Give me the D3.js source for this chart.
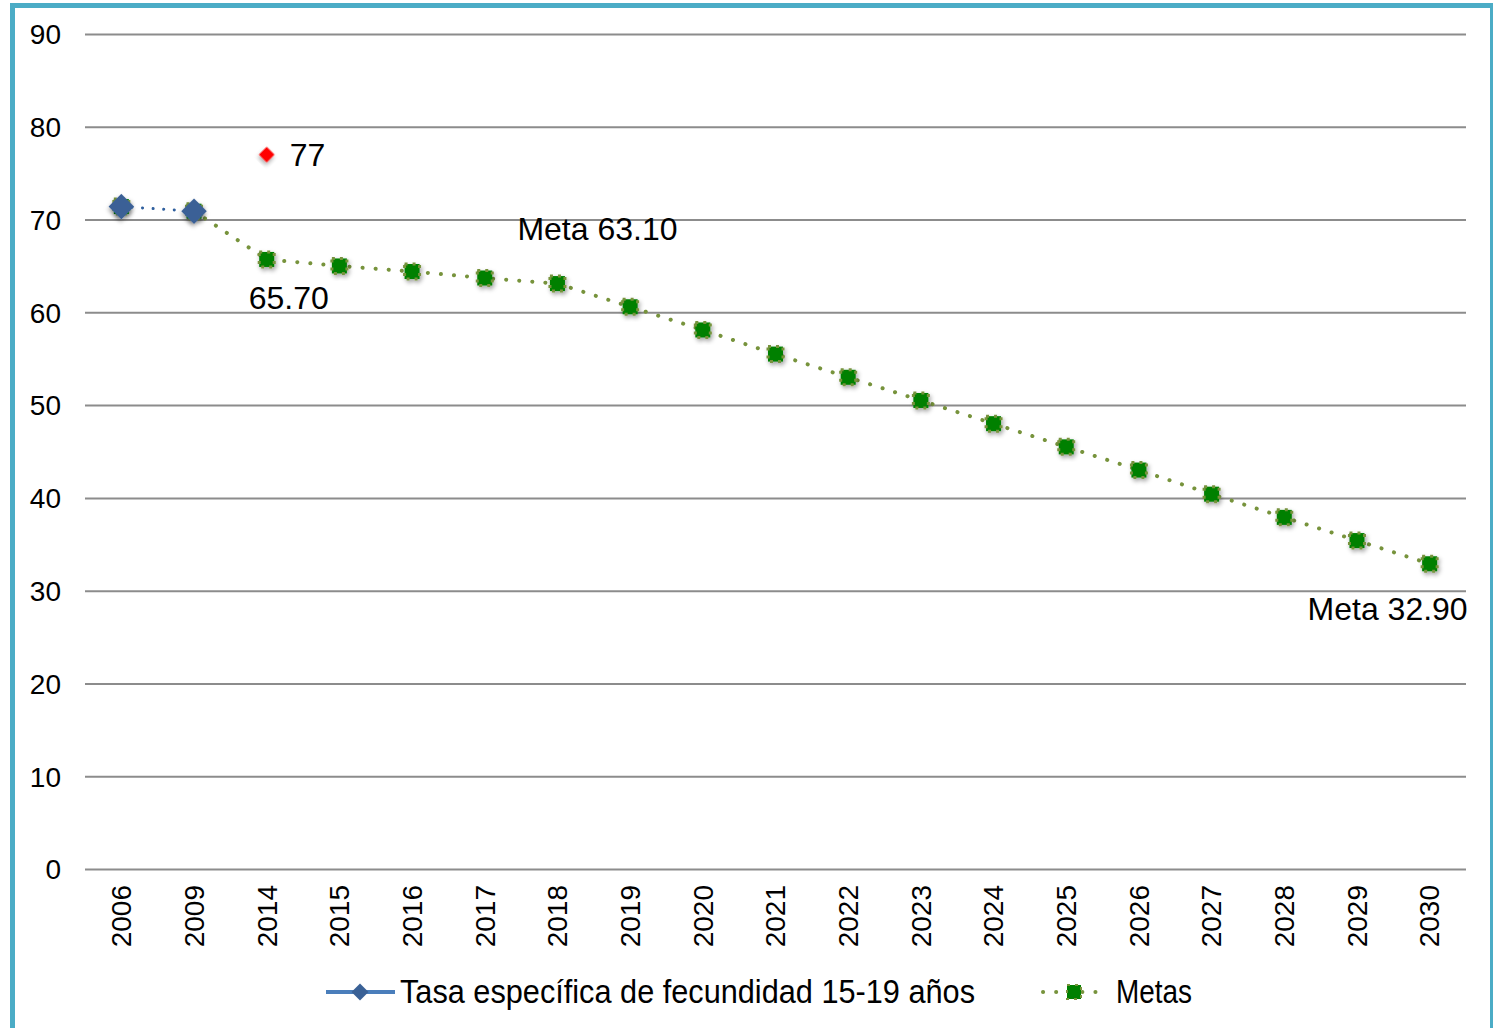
<!DOCTYPE html>
<html><head><meta charset="utf-8">
<script src="https://cdn.jsdelivr.net/npm/d3@7"></script>
<style>body{margin:0;background:#fff}svg{display:block}text{font-family:"Liberation Sans",Arial,sans-serif}</style>
</head><body><svg id="c" width="1493" height="1028"></svg>
<script>
const categories = ["2006","2009","2014","2015","2016","2017","2018","2019","2020","2021","2022","2023","2024","2025","2026","2027","2028","2029","2030"];
const tasaValues = [71.4, 70.9, null, null, null, null, null, null, null, null, null, null, null, null, null, null, null, null, null];
const metasValues = [71.4, 70.9, 65.7, 65.0, 64.4, 63.7, 63.1, 60.6, 58.1, 55.5, 53.0, 50.5, 48.0, 45.5, 43.0, 40.4, 37.9, 35.4, 32.9];
const extraPoint = {cat: "2014", value: 77, label: "77"};
const yTicks = [0,10,20,30,40,50,60,70,80,90];
const seriesNames = ["Tasa específica de fecundidad 15-19 años", "Metas"];
const annotations = [
  {cat: "2014", value: 65.7, text: "65.70"},
  {cat: "2018", value: 63.1, text: "Meta 63.10"},
  {cat: "2030", value: 32.9, text: "Meta 32.90"}
];

const svg = d3.select("#c");
const defs = svg.append("defs");
const f = defs.append("filter").attr("id","sh").attr("x","-50%").attr("y","-50%").attr("width","200%").attr("height","200%");
f.append("feDropShadow").attr("dx",1.5).attr("dy",2.5).attr("stdDeviation",2).attr("flood-color","#000").attr("flood-opacity",0.35);

// border
svg.append("rect").attr("x",12.5).attr("y",5.5).attr("width",1480).attr("height",1100)
  .attr("fill","none").attr("stroke","#4bacc6").attr("stroke-width",5);

const x = d3.scaleBand().domain(categories).range([85,1466]);
const y = d3.scaleLinear().domain([0,90]).range([869,34]);
const cx = c => x(c) + x.bandwidth()/2;

// grid
const yAxis = d3.axisLeft(y).tickValues(yTicks).tickSize(-(1466-85)).tickPadding(24);
const gy = svg.append("g").attr("transform","translate(85,0)").call(yAxis);
gy.select(".domain").remove();
gy.selectAll(".tick line").attr("stroke","#8c8c8c").attr("stroke-width",2);
gy.selectAll(".tick text").attr("font-size",28).attr("fill","#000").attr("dy","0.35em");

// x axis labels
const xAxis = d3.axisBottom(x).tickSize(0).tickPadding(0);
const gx = svg.append("g").attr("transform","translate(0,869)").call(xAxis);
gx.select(".domain").remove();
gx.selectAll(".tick text").attr("font-size",28).attr("fill","#000")
  .attr("transform","rotate(-90)").attr("text-anchor","end")
  .attr("x",-16).attr("y",0).attr("dy","0.35em");

// Metas line
const metasPts = categories.map((c,i)=>({c, v: metasValues[i]})).filter(d=>d.v!=null);
const line = d3.line().x(d=>cx(d.c)).y(d=>y(d.v));
svg.append("path").datum(metasPts.slice(1)).attr("d",line).attr("fill","none")
  .attr("stroke","#77933c").attr("stroke-width",4).attr("stroke-linecap","round").attr("stroke-dasharray","0.1 13");

// Metas markers
const sq = 15;
svg.append("g").selectAll("rect").data(metasPts).join("rect")
  .attr("x",d=>cx(d.c)-sq/2).attr("y",d=>y(d.v)-sq/2).attr("width",sq).attr("height",sq)
  .attr("fill","#008000").attr("stroke","#77933c").attr("stroke-width",3).attr("stroke-dasharray","3 5")
  .attr("filter","url(#sh)");

// Tasa line
const tasaPts = categories.map((c,i)=>({c, v: tasaValues[i]})).filter(d=>d.v!=null);
svg.append("path").datum(tasaPts).attr("d",line).attr("fill","none")
  .attr("stroke","#2f5f9e").attr("stroke-width",3).attr("stroke-linecap","round").attr("stroke-dasharray","0.1 10.5");
svg.append("g").selectAll("rect").data(tasaPts).join("rect")
  .attr("x",-9).attr("y",-9).attr("width",18).attr("height",18)
  .attr("transform",d=>`translate(${cx(d.c)},${y(d.v)}) rotate(45)`)
  .attr("fill","#3a6196").attr("filter","url(#sh)");

// red point
svg.append("rect").attr("x",-5.5).attr("y",-5.5).attr("width",11).attr("height",11)
  .attr("transform",`translate(${cx(extraPoint.cat)},${y(extraPoint.value)}) rotate(45)`)
  .attr("fill","#ff0000").attr("filter","url(#sh)");
svg.append("text").attr("x",cx(extraPoint.cat)+23).attr("y",y(extraPoint.value)+11)
  .attr("font-size",32).text(extraPoint.label);

// annotations
const a0 = annotations[0], a1 = annotations[1], a2 = annotations[2];
svg.append("text").attr("x",cx(a0.cat)-18).attr("y",y(a0.value)+50).attr("font-size",32).text(a0.text);
svg.append("text").attr("x",cx(a1.cat)+40).attr("y",y(a1.value)-44).attr("font-size",32).attr("text-anchor","middle").text(a1.text);
svg.append("text").attr("x",cx(a2.cat)+38).attr("y",y(a2.value)+56).attr("font-size",32).attr("text-anchor","end").text(a2.text);

// legend
const lg = svg.append("g");
lg.append("line").attr("x1",326).attr("x2",395).attr("y1",992).attr("y2",992).attr("stroke","#4a7ebb").attr("stroke-width",4);
lg.append("rect").attr("x",-6).attr("y",-6).attr("width",12).attr("height",12)
  .attr("transform","translate(360,992) rotate(45)").attr("fill","#3a6196");
lg.append("text").attr("x",400).attr("y",1003).attr("font-size",33).attr("textLength",575).attr("lengthAdjust","spacingAndGlyphs").text(seriesNames[0]);
lg.append("line").attr("x1",1043).attr("x2",1105).attr("y1",992).attr("y2",992).attr("stroke","#77933c").attr("stroke-width",4)
  .attr("stroke-linecap","round").attr("stroke-dasharray","0.1 13");
lg.append("rect").attr("x",1067).attr("y",985).attr("width",14).attr("height",14).attr("fill","#008000")
  .attr("stroke","#77933c").attr("stroke-width",2).attr("stroke-dasharray","3 5");
lg.append("text").attr("x",1116).attr("y",1003).attr("font-size",33).attr("textLength",76).attr("lengthAdjust","spacingAndGlyphs").text(seriesNames[1]);
</script></body></html>
